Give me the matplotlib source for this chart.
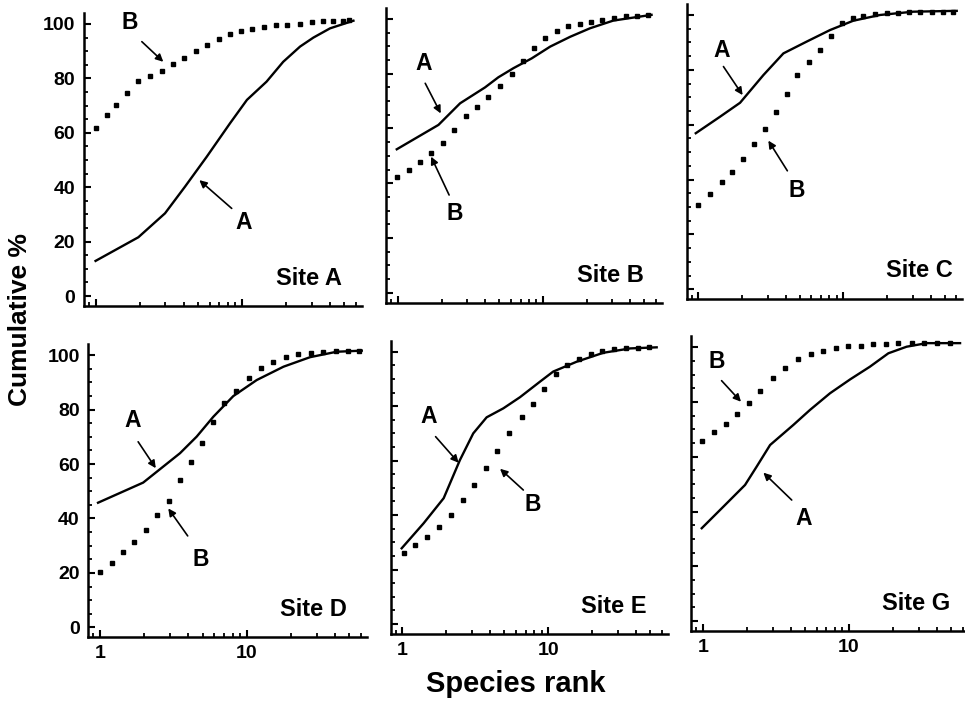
import matplotlib
matplotlib.use('Agg')
import matplotlib.pyplot as plt
from matplotlib.ticker import FixedLocator, MultipleLocator, LogLocator, NullFormatter, FixedFormatter

plt.rcParams['font.family'] = ['Liberation Sans', 'DejaVu Sans']
plt.rcParams['font.weight'] = 'bold'

# ---------------- data ----------------
sites = ["Site A", "Site B", "Site C", "Site D", "Site E", "Site G"]
x_ticks = [1, 10]
x_tick_labels = ["1", "10"]
y_ticks = [0, 20, 40, 60, 80, 100]
y_tick_labels = ["0", "20", "40", "60", "80", "100"]

# Site A
siteA_rank_A = [1.0, 1.96, 2.98, 4.08, 5.74, 8.28, 10.8, 14.7, 19.1, 24.9, 30.7, 39.9, 57.6]
siteA_pct_A = [12.9, 21.6, 30.4, 40.2, 51.2, 63.5, 72.1, 78.8, 86.1, 91.7, 95.0, 98.4, 101.2]
siteA_rank_B = [1.0, 1.19, 1.37, 1.65, 1.96, 2.35, 2.83, 3.36, 4.04, 4.85, 5.80, 6.97, 8.28,
                9.84, 11.75, 14.2, 17.1, 20.4, 24.8, 29.9, 35.6, 42.0, 49.2, 54.0]
siteA_pct_B = [61.9, 66.5, 70.2, 74.7, 78.9, 80.9, 82.7, 85.2, 87.5, 90.1, 92.3, 94.4, 96.2,
               97.5, 98.3, 98.9, 99.5, 99.8, 100.1, 100.9, 101.1, 101.2, 101.2, 101.5]

# Site B
siteB_rank_A = [0.98, 1.90, 2.68, 3.98, 4.92, 6.24, 8.35, 11.2, 15.4, 21.1, 30.5, 56.0]
siteB_pct_A = [52.4, 61.3, 69.2, 75.0, 78.7, 82.0, 85.6, 89.9, 93.5, 96.6, 99.4, 101.5]
siteB_rank_B = [0.99, 1.19, 1.42, 1.69, 2.03, 2.45, 2.94, 3.49, 4.20, 5.05, 6.08, 7.24, 8.67,
                10.3, 12.4, 14.9, 18.0, 21.4, 25.6, 30.9, 37.2, 44.3, 53.2]
siteB_pct_B = [42.2, 44.8, 47.9, 50.9, 54.8, 59.4, 64.6, 68.0, 71.6, 75.5, 79.9, 84.7, 89.3,
               93.2, 95.7, 97.4, 98.2, 99.0, 99.6, 100.5, 100.9, 101.1, 101.3]

# Site C
siteC_rank_A = [0.96, 1.41, 1.94, 2.81, 3.86, 5.59, 8.09, 11.7, 17.9, 30.4, 60.5]
siteC_pct_A = [56.9, 62.9, 68.0, 78.1, 86.0, 90.3, 94.5, 97.9, 100.0, 101.2, 101.5]
siteC_rank_B = [1.0, 1.20, 1.45, 1.72, 2.04, 2.42, 2.88, 3.44, 4.07, 4.82, 5.81, 6.91, 8.18,
                9.75, 11.6, 13.7, 16.6, 19.9, 23.7, 28.5, 33.8, 40.7, 48.5, 57.4]
siteC_pct_B = [30.7, 34.7, 39.0, 42.9, 47.4, 53.0, 58.4, 64.7, 71.2, 78.1, 82.8, 87.2, 92.3,
               97.2, 98.8, 99.7, 100.3, 100.6, 100.8, 101.0, 101.0, 101.1, 101.1, 101.2]

# Site D
siteD_rank_A = [0.97, 1.97, 2.44, 3.51, 4.56, 5.92, 8.10, 11.7, 17.8, 27.0, 41.0, 60.8]
siteD_pct_A = [45.8, 53.2, 57.2, 64.0, 70.1, 77.4, 85.0, 90.9, 95.8, 99.3, 101.3, 101.7]
siteD_rank_B = [1.0, 1.21, 1.44, 1.71, 2.06, 2.46, 2.96, 3.51, 4.15, 4.98, 5.93, 7.05, 8.46,
                10.3, 12.5, 15.2, 18.5, 22.5, 27.3, 33.3, 40.6, 49.3, 58.6]
siteD_pct_B = [20.4, 23.5, 27.8, 31.5, 35.8, 41.3, 46.6, 54.2, 60.9, 67.9, 75.6, 82.4, 87.0,
               91.5, 95.4, 97.6, 99.3, 100.4, 101.0, 101.1, 101.6, 101.7, 101.7]

# Site E
siteE_rank_A = [0.99, 1.40, 1.92, 2.48, 3.06, 3.78, 4.92, 6.40, 8.77, 10.8, 15.6, 23.8, 36.3, 55.2]
siteE_pct_A = [27.8, 37.0, 46.2, 60.2, 70.0, 75.9, 79.2, 83.3, 89.0, 92.7, 96.3, 99.6, 101.2, 101.6]
siteE_rank_B = [1.02, 1.22, 1.48, 1.78, 2.16, 2.62, 3.11, 3.74, 4.47, 5.41, 6.57, 7.82, 9.35,
                11.2, 13.5, 16.3, 19.6, 23.4, 28.3, 34.1, 40.9, 49.2]
siteE_pct_B = [26.2, 29.0, 32.1, 35.5, 40.0, 45.5, 51.0, 57.2, 63.6, 70.3, 76.1, 80.8, 86.3,
               91.7, 95.1, 97.2, 99.2, 100.3, 100.9, 101.2, 101.5, 101.8]

# Site G
siteG_rank_A = [0.98, 1.38, 1.94, 2.33, 2.88, 4.15, 5.40, 7.41, 10.2, 13.9, 18.6, 24.8, 34.0, 57.6]
siteG_pct_A = [33.9, 41.8, 49.7, 56.4, 64.3, 71.6, 77.1, 83.2, 88.3, 92.9, 97.8, 100.2, 101.5, 101.5]
siteG_rank_B = [0.98, 1.18, 1.43, 1.72, 2.07, 2.46, 3.03, 3.65, 4.45, 5.47, 6.67, 8.11, 9.89,
                12.0, 14.7, 17.9, 21.8, 26.9, 32.8, 40.3, 49.2]
siteG_pct_B = [65.9, 69.2, 72.0, 75.5, 79.5, 84.1, 88.7, 92.3, 95.7, 97.6, 98.8, 99.6, 100.5,
               100.5, 101.1, 101.1, 101.5, 101.7, 101.7, 101.7, 101.7]

series = [
    (siteA_rank_A, siteA_pct_A, siteA_rank_B, siteA_pct_B),
    (siteB_rank_A, siteB_pct_A, siteB_rank_B, siteB_pct_B),
    (siteC_rank_A, siteC_pct_A, siteC_rank_B, siteC_pct_B),
    (siteD_rank_A, siteD_pct_A, siteD_rank_B, siteD_pct_B),
    (siteE_rank_A, siteE_pct_A, siteE_rank_B, siteE_pct_B),
    (siteG_rank_A, siteG_pct_A, siteG_rank_B, siteG_pct_B),
]

# ---------------- layout (pixels) ----------------
W, H = 965, 707
# left, right, top, bottom of each axes box in pixels
boxes = [
    (83.7, 362.1, 13.1, 305.8),
    (386.3, 661.9, 8.0, 302.6),
    (686.6, 962.2, 4.0, 299.2),
    (88.1, 367.0, 344.4, 637.1),
    (390.5, 668.0, 340.8, 633.8),
    (691.2, 968.7, 336.3, 630.9),
]
site_label_pos = [(0.928, 0.071), (0.933, 0.071), (0.966, 0.076),
                  (0.927, 0.072), (0.923, 0.070), (0.935, 0.071)]

# annotations: (letter, label xy, arrow tail, arrow head) in data coords
annotations = [
    [("B", (1.72, 100.4), (2.07, 93.5), (2.90, 86.1)),
     ("A", (10.2, 27.2), (8.5, 32.2), (5.11, 42.6))],
    [("A", (1.50, 83.8), (1.54, 76.5), (1.97, 65.5)),
     ("B", (2.47, 29.0), (2.25, 35.7), (1.69, 49.7))],
    [("A", (1.45, 87.2), (1.49, 81.2), (2.02, 70.8)),
     ("B", (4.77, 36.2), (4.11, 43.2), (3.04, 54.2))],
    [("A", (1.67, 76.2), (1.82, 68.2), (2.40, 58.5)),
     ("B", (4.88, 25.1), (3.96, 33.6), (2.92, 43.7))],
    [("A", (1.51, 76.1), (1.69, 68.8), (2.43, 59.2)),
     ("B", (7.82, 43.7), (6.74, 49.2), (4.67, 57.0))],
    [("B", (1.24, 94.7), (1.34, 87.8), (1.82, 80.1)),
     ("A", (4.86, 37.5), (4.05, 44.2), (2.59, 54.2))],
]

fig = plt.figure(figsize=(W / 100, H / 100), dpi=100)
fig.patch.set_facecolor('white')

for i, (l, r, t, b) in enumerate(boxes):
    ax = fig.add_axes([l / W, 1 - b / H, (r - l) / W, (b - t) / H])
    ax.set_xscale('log')
    ax.set_xlim(0.83, 66)
    ax.set_ylim(-3.6, 104)
    ax.patch.set_alpha(0)
    for s in ('top', 'right'):
        ax.spines[s].set_visible(False)
    for s in ('left', 'bottom'):
        ax.spines[s].set_linewidth(1.8)
    ax.xaxis.set_major_locator(FixedLocator(x_ticks))
    ax.xaxis.set_minor_locator(LogLocator(base=10, subs=range(2, 10)))
    ax.xaxis.set_minor_formatter(NullFormatter())
    ax.yaxis.set_major_locator(FixedLocator(y_ticks))
    ax.yaxis.set_minor_locator(MultipleLocator(5))
    ax.tick_params(which='major', direction='in', length=5, width=1.5, pad=6, labelsize=14)
    ax.tick_params(which='minor', direction='in', length=3, width=1.3)
    row, col = divmod(i, 3)
    if row == 1:
        ax.xaxis.set_major_formatter(FixedFormatter(x_tick_labels))
    else:
        ax.tick_params(axis='x', labelbottom=False)
    if col == 0:
        ax.yaxis.set_major_formatter(FixedFormatter(y_tick_labels))
    else:
        ax.tick_params(axis='y', labelleft=False)
    for lab in ax.get_xticklabels() + ax.get_yticklabels():
        lab.set_fontweight('bold')

    ra, pa, rb, pb = series[i]
    ax.plot(ra, pa, color='black', lw=1.7, clip_on=False)
    ax.plot(rb, pb, ls='none', marker='s', ms=3.3, color='black', clip_on=False)

    ax.text(site_label_pos[i][0], site_label_pos[i][1], sites[i], transform=ax.transAxes,
            ha='right', va='baseline', fontsize=17, fontweight='bold')

    for letter, lxy, tail, head in annotations[i]:
        ax.text(lxy[0], lxy[1], letter, ha='center', va='center', fontsize=16.5,
                fontweight='bold')
        ax.annotate('', xy=head, xytext=tail,
                    arrowprops=dict(arrowstyle='-|>', color='black', lw=1.2,
                                    mutation_scale=11, shrinkA=0, shrinkB=0))

fig.text(516 / W, 1 - 684 / H, 'Species rank', ha='center', va='center',
         fontsize=21, fontweight='bold')
fig.text(20 / W, 1 - 320 / H, 'Cumulative %', ha='center', va='center',
         rotation=90, fontsize=19, fontweight='bold')

fig.savefig('out.png', dpi=100, facecolor='white')
